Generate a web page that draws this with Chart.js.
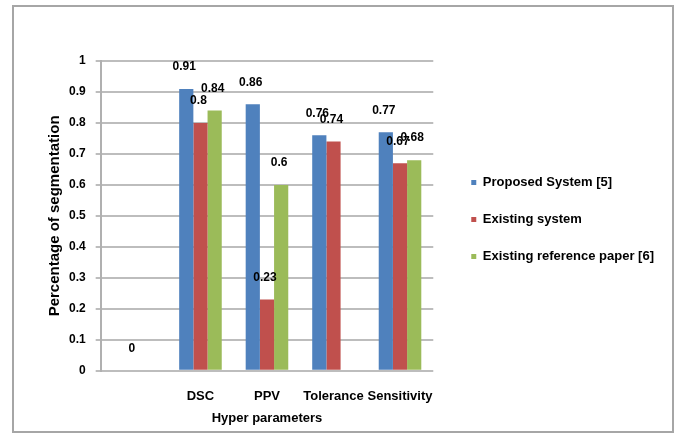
<!DOCTYPE html>
<html>
<head>
<meta charset="utf-8">
<script src="https://cdn.jsdelivr.net/npm/chart.js@4.4.0/dist/chart.umd.min.js"></script>
<style>
  html, body { margin: 0; padding: 0; background: #fff; }
  #wrap { position: relative; width: 679px; height: 434px; }
</style>
</head>
<body>
<div id="wrap"><canvas id="chart" width="679" height="434"></canvas></div>
<script>
// Chart data
const categories = ['', 'DSC', 'PPV', 'Tolerance', 'Sensitivity'];
const proposedSystem = [null, 0.91, 0.86, 0.76, 0.77];
const existingSystem = [0, 0.8, 0.23, 0.74, 0.67];
const existingReference = [null, 0.84, 0.6, null, 0.68];
const seriesNames = ['Proposed System [5]', 'Existing system', 'Existing reference paper [6]'];
const yTicks = [0, 0.1, 0.2, 0.3, 0.4, 0.5, 0.6, 0.7, 0.8, 0.9, 1];

const FONT = '"Liberation Sans", Arial, sans-serif';

// Outer frame + white background
const framePlugin = {
    id: 'frame',
    beforeDraw(chart) {
        const ctx = chart.ctx;
        ctx.save();
        ctx.fillStyle = '#fff';
        ctx.fillRect(0, 0, chart.width, chart.height);
        ctx.strokeStyle = '#a6a6a6';
        ctx.lineWidth = 2;
        ctx.strokeRect(13, 6, 660, 426);
        ctx.restore();
    }
};

// Value labels above bars
const valueLabels = {
    id: 'valueLabels',
    afterDatasetsDraw(chart) {
        const ctx = chart.ctx;
        ctx.save();
        ctx.font = 'bold 12px ' + FONT;
        ctx.fillStyle = '#000';
        ctx.textAlign = 'center';
        ctx.textBaseline = 'bottom';
        chart.data.datasets.forEach((ds, i) => {
            const meta = chart.getDatasetMeta(i);
            meta.data.forEach((bar, j) => {
                const v = ds.data[j];
                if (v === null || v === undefined) return;
                ctx.fillText(String(v), bar.x - 2, bar.y - 16);
            });
        });
        ctx.restore();
    }
};

const ctx = document.getElementById('chart').getContext('2d');
new Chart(ctx, {
    type: 'bar',
    data: {
        labels: categories,
        datasets: [{
            label: seriesNames[0],
            data: proposedSystem,
            backgroundColor: '#4f81bd'
        }, {
            label: seriesNames[1],
            data: existingSystem,
            backgroundColor: '#c0504d'
        }, {
            label: seriesNames[2],
            data: existingReference,
            backgroundColor: '#9bbb59'
        }]
    },
    options: {
        responsive: false,
        animation: false,
        categoryPercentage: 0.64,
        barPercentage: 1,
        layout: {
            padding: { left: 34, top: 61, right: 15, bottom: 8 }
        },
        scales: {
            x: {
                grid: { display: false, drawTicks: false },
                border: { display: false },
                ticks: {
                    color: '#000',
                    padding: 18,
                    maxRotation: 0,
                    autoSkip: false,
                    font: { family: FONT, size: 13, weight: 'bold' }
                },
                title: {
                    display: true,
                    text: 'Hyper parameters',
                    color: '#000',
                    padding: { top: -12, bottom: 0 },
                    font: { family: FONT, size: 13, weight: 'bold' }
                }
            },
            y: {
                min: 0,
                max: 1,
                afterBuildTicks(scale) {
                    scale.ticks = yTicks.map(v => ({ value: v }));
                },
                grid: { color: '#bdbdbd', lineWidth: 2, tickLength: 5 },
                border: { display: true, color: '#b0b0b0', width: 2 },
                ticks: {
                    color: '#000',
                    padding: 10,
                    font: { family: FONT, size: 12, weight: 'bold' },
                    callback: function(value) {
                        return String(Math.round(value * 10) / 10);
                    }
                },
                title: {
                    display: true,
                    text: 'Percentage of segmentation',
                    color: '#000',
                    padding: { top: 12, bottom: -5 },
                    font: { family: FONT, size: 15, weight: 'bold' }
                }
            },
            gap: {
                type: 'linear',
                position: 'right',
                grid: { display: false },
                border: { display: false },
                ticks: { display: false },
                afterFit(scale) { scale.width = 14; }
            }
        },
        plugins: {
            legend: {
                position: 'right',
                fullSize: false,
                maxWidth: 300,
                title: {
                    display: true,
                    text: '',
                    padding: 0,
                    font: { size: 6 }
                },
                labels: {
                    color: '#000',
                    boxWidth: 5,
                    boxHeight: 5,
                    padding: 24,
                    font: { family: FONT, size: 13, weight: 'bold' }
                }
            },
            tooltip: { enabled: false }
        }
    },
    plugins: [framePlugin, valueLabels]
});
</script>
</body>
</html>
